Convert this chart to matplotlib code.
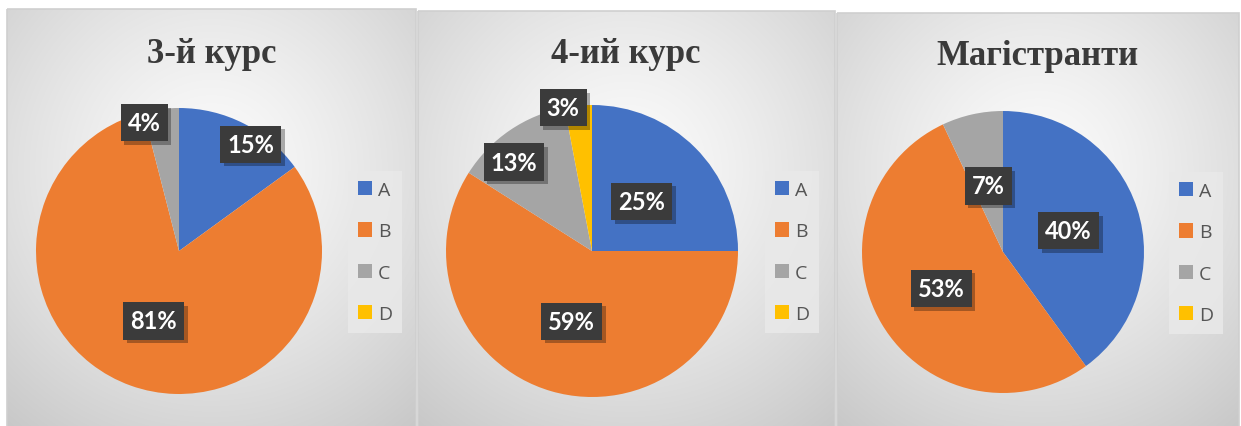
import numpy as np
import matplotlib
matplotlib.use("Agg")
import matplotlib.pyplot as plt
from matplotlib.patches import Rectangle
from matplotlib import patheffects

# ---- data -------------------------------------------------------------
categories = ["A", "B", "C", "D"]
titles = ["3-й курс", "4-ий курс", "Магістранти"]
course3 = [15, 81, 4, 0]
course4 = [25, 59, 13, 3]
masters = [40, 53, 7, 0]
series = [course3, course4, masters]

colors = ["#4472C4", "#ED7D31", "#A5A5A5", "#FFC000"]

# ---- layout (pixels) --------------------------------------------------
W, H = 1241, 427
panels = [(7, 416, 10), (418, 835, 12), (837, 1239, 14)]        # x0, x1, top
pie_geom = [(179, 252, 143), (592, 252, 146), (1003, 253, 141)]  # cx, cy, r
title_pos = [(212, 63), (626, 63), (1037, 65)]
legend_center = [(375, 253), (792, 253), (1196, 254)]

# label placement: radial fraction and clockwise nudge (deg) per slice
label_r = [[0.90, 0.52, 0.93, 0.0], [0.48, 0.50, 0.81, 1.0], [0.49, 0.51, 0.48, 0.0]]
label_nudge = [[7, 0, -8, 0], [0, 0, -7, -6], [0, 0, 0, 0]]

LABEL_FONT = ["Lato", "DejaVu Sans"]
LEGEND_FONT = ["Open Sans", "DejaVu Sans"]

fig = plt.figure(figsize=(W / 100, H / 100), dpi=100)
fig.patch.set_facecolor("white")

# background panels with a soft radial gradient
bg = fig.add_axes([0, 0, 1, 1])
bg.set_xlim(0, W)
bg.set_ylim(H, 0)
bg.axis("off")
for (x0, x1, y0) in panels:
    y1 = H + 2
    nx, ny = 200, 200
    xx, yy = np.meshgrid(np.linspace(0, 1, nx), np.linspace(0, 1, ny))
    d = np.sqrt((xx - 0.5) ** 2 + (yy - 0.38) ** 2)
    v = 0.985 - 0.27 * d ** 1.3
    img = np.dstack([v, v, v])
    bg.imshow(img, extent=(x0, x1, y1, y0), origin="upper", aspect="auto",
              interpolation="bilinear", zorder=0)
    bg.add_patch(Rectangle((x0, y0), x1 - x0, y1 - y0, fill=False,
                           edgecolor="#cfcfcf", linewidth=1.2, zorder=1))

for i, vals in enumerate(series):
    cx, cy, r = pie_geom[i]
    ax = fig.add_axes([(cx - r) / W, (H - cy - r) / H, 2 * r / W, 2 * r / H])
    wedges, _ = ax.pie(vals, colors=colors, startangle=90, counterclock=False,
                       radius=1.0, wedgeprops=dict(linewidth=0))
    ax.set_xlim(-1, 1)
    ax.set_ylim(-1, 1)
    ax.set_aspect("equal")
    ax.axis("off")

    total = float(sum(vals))
    cum = 0.0
    for j, v in enumerate(vals):
        frac = v / total
        mid = cum + frac / 2
        cum += frac
        if v == 0:
            continue
        theta = np.deg2rad(90 - 360 * mid - label_nudge[i][j])
        rr = label_r[i][j]
        t = ax.text(rr * np.cos(theta), rr * np.sin(theta), f"{v}%",
                    ha="center", va="center", color="white", fontsize=17,
                    fontweight="bold", family=LABEL_FONT, clip_on=False,
                    zorder=5,
                    bbox=dict(boxstyle="square,pad=0.3", facecolor="#3b3b3b",
                              edgecolor="none", linewidth=0))
        t.get_bbox_patch().set_path_effects([
            patheffects.SimplePatchShadow(offset=(2.5, -2.5), shadow_rgbFace="black", alpha=0.3),
            patheffects.Normal()])

    lx, ly = legend_center[i]
    leg = ax.legend(wedges, categories, loc="center",
                    bbox_to_anchor=(lx / W, 1 - ly / H), bbox_transform=fig.transFigure,
                    frameon=True, fancybox=False, facecolor="#e9e9e9", edgecolor="none",
                    framealpha=0.85, handlelength=0.75, handleheight=0.75,
                    handletextpad=0.3, labelspacing=1.2, borderpad=0.5,
                    prop=dict(family=LEGEND_FONT, size=14))
    for txt in leg.get_texts():
        txt.set_color("#555555")

    tx, ty = title_pos[i]
    fig.text(tx / W, 1 - ty / H, titles[i], ha="center", va="baseline",
             fontsize=25, fontweight="bold", family="Liberation Serif", color="#3a3a3a")

fig.savefig("out.png", dpi=100)
